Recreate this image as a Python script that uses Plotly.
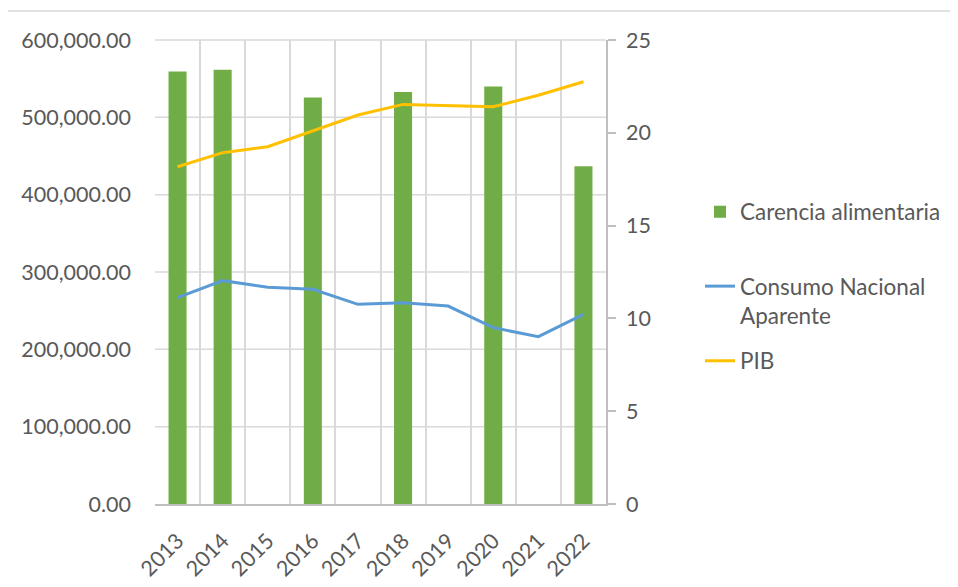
import plotly.graph_objects as go

years = ["2013", "2014", "2015", "2016", "2017", "2018", "2019", "2020", "2021", "2022"]
carencia = [23.3, 23.4, None, 21.9, None, 22.2, None, 22.5, None, 18.2]
consumo = [266800, 288800, 280200, 277600, 258200, 260300, 256000, 228000, 216400, 245300]
pib = [18.17, 18.93, 19.25, 20.12, 20.96, 21.53, 21.48, 21.41, 22.02, 22.75]

LEFT_MAX, LEFT_STEP = 600000, 100000
RIGHT_MAX, RIGHT_STEP = 25, 5

FONT = "Lato"
TXT = "#595959"
GRID = "#d9d9d9"
AXL = "#bfbfbf"

OFF = 8  # page body margin
W, H = 958 - OFF, 587 - OFF
L, R, T, B = 155 - OFF, 606 - OFF, 40 - OFF, 504 - OFF


def px(x):
    return (x - OFF - L) / (R - L)


def py(y):
    return (B - (y - OFF)) / (B - T)


fig = go.Figure()
fig.add_trace(go.Bar(
    x=years, y=carencia, name="Carencia alimentaria", marker_color="#70AD47",
    marker_line_width=0, width=0.4, yaxis="y", legend="legend",
))
fig.add_trace(go.Scatter(
    x=years, y=pib, name="PIB", mode="lines",
    line=dict(color="#FFC000", width=3), yaxis="y", legend="legend3",
))
fig.add_trace(go.Scatter(
    x=years, y=consumo, name="Consumo Nacional<br>Aparente", mode="lines",
    line=dict(color="#5B9BD5", width=3), yaxis="y2", legend="legend2",
))

legend_common = dict(
    font=dict(family=FONT, size=22.5, color=TXT), bgcolor="rgba(0,0,0,0)",
    xanchor="left", yanchor="middle", x=px(700),
)

TF = dict(family=FONT, size=21.5, color=TXT)

# horizontal gridlines at the left-axis steps (axis range starts at 0)
grid_shapes = [
    dict(type="line", xref="paper", yref="paper", x0=0, x1=1,
         y0=i * LEFT_STEP / LEFT_MAX, y1=i * LEFT_STEP / LEFT_MAX,
         line=dict(color=GRID, width=1.5), layer="below")
    for i in range(1, LEFT_MAX // LEFT_STEP + 1)
]

fig.update_layout(
    width=W, height=H,
    margin=dict(l=L, r=W - R, t=T, b=H - B, pad=0),
    paper_bgcolor="white", plot_bgcolor="rgba(0,0,0,0)",
    font=dict(family=FONT, size=21.5, color=TXT),
    showlegend=True,
    legend=dict(**legend_common, y=py(212)),
    legend2=dict(**legend_common, y=py(301), valign="top"),
    legend3=dict(**legend_common, y=py(361)),
    xaxis=dict(
        type="category", tickangle=-45, showgrid=True, gridcolor=GRID, gridwidth=1.5,
        tickson="boundaries", ticks="", showline=True, linecolor=AXL, linewidth=1.5,
        tickfont=TF, range=[-0.5, 9.5], ticklabelstandoff=14, automargin=False,
    ),
    # right axis (main subplot: bars + PIB)
    yaxis=dict(
        range=[0, RIGHT_MAX], dtick=RIGHT_STEP, side="right", showgrid=False,
        zeroline=False, showline=True, linecolor=AXL, linewidth=1.5,
        ticks="outside", ticklen=8, tickcolor=AXL, tickwidth=1.5,
        tickfont=TF, ticklabelstandoff=6, automargin=False,
    ),
    # left axis (overlay: Consumo Nacional Aparente)
    yaxis2=dict(
        range=[0, LEFT_MAX], dtick=LEFT_STEP, tickformat=",.2f", showgrid=False,
        zeroline=False, showline=False, ticks="", tickfont=TF,
        ticklabelstandoff=23, side="left", overlaying="y", automargin=False,
    ),
    bargap=0.6,
    shapes=grid_shapes + [
        dict(type="line", xref="paper", yref="paper", x0=px(6.5), x1=px(6.5),
             y0=py(11), y1=py(H + 20), line=dict(color=GRID, width=1.5)),
        dict(type="line", xref="paper", yref="paper", x0=px(6.5), x1=px(W + 20),
             y0=py(11), y1=py(11), line=dict(color=GRID, width=1.5)),
    ],
)

fig.write_html("out.html")
